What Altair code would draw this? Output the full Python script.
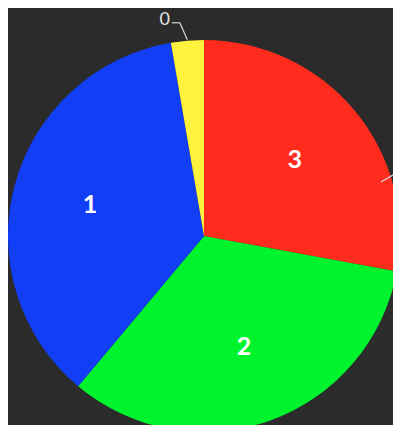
import altair as alt
import pandas as pd

# data (clockwise from 12 o'clock)
categories = ["3", "2", "1", "0"]
values = [27.9, 33.2, 36.2, 2.7]
colors = ["#FF2B1C", "#00F42E", "#123FF6", "#FFF23C"]
outside_labels = ["0"]

df = pd.DataFrame({
    "cat": categories,
    "value": values,
    "idx": list(range(len(categories))),
})
df["outside"] = df["cat"].isin(outside_labels)

CX, CY, R = 196, 228, 196

base = alt.Chart(df).transform_joinaggregate(
    total="sum(value)"
).transform_window(
    cum="sum(value)", sort=[alt.SortField("idx")], frame=[None, 0]
).transform_calculate(
    mid="(datum.cum - datum.value/2) / datum.total * 2 * PI"
)

pie = alt.Chart(df).mark_arc(outerRadius=R, stroke=None).encode(
    theta=alt.Theta("value:Q", stack=True),
    order=alt.Order("idx:Q"),
    color=alt.Color("cat:N", scale=alt.Scale(domain=categories, range=colors), legend=None),
    x=alt.value(CX),
    y=alt.value(CY),
)

inside = base.transform_filter("!datum.outside").transform_calculate(
    lx=f"{CX} + 118*sin(datum.mid)",
    ly=f"{CY} - 118*cos(datum.mid)",
).mark_text(font="Lato", fontWeight="bold", fontSize=25, color="white",
            align="center", baseline="middle").encode(
    x=alt.X("lx:Q", scale=None),
    y=alt.Y("ly:Q", scale=None),
    text="cat:N",
)

out = base.transform_filter("datum.outside").transform_calculate(
    x1=f"{CX} + {R+1}*sin(datum.mid)",
    y1=f"{CY} - {R+1}*cos(datum.mid)",
    x2=f"{CX} + 214*sin(datum.mid) - 6",
    y2=f"{CY} - 214*cos(datum.mid)",
).transform_calculate(
    x3="datum.x2 - 8",
    tx="datum.x2 - 10",
    ty="datum.y2 - 3",
)

lead1 = out.mark_rule(color="#D8D8D8", strokeWidth=1.2).encode(
    x=alt.X("x1:Q", scale=None), y=alt.Y("y1:Q", scale=None),
    x2="x2:Q", y2="y2:Q",
)
lead2 = out.mark_rule(color="#D8D8D8", strokeWidth=1.2).encode(
    x=alt.X("x2:Q", scale=None), y=alt.Y("y2:Q", scale=None),
    x2="x3:Q", y2="y2:Q",
)
outtext = out.mark_text(font="Lato", fontSize=18, color="#E6E6E6",
                        align="right", baseline="middle").encode(
    x=alt.X("tx:Q", scale=None), y=alt.Y("ty:Q", scale=None), text="cat:N",
)

right_lead = alt.Chart(df).mark_rule(color="#D8D8D8", strokeWidth=1.2).encode(
    x=alt.value(373), y=alt.value(174), x2=alt.value(390), y2=alt.value(164)
).transform_filter("datum.idx == 0")

chart = alt.layer(pie, inside, lead1, lead2, outtext, right_lead).properties(
    width=385, height=417, background="#2B2B2B", padding=0,
    autosize=alt.AutoSizeParams(type="none"),
).configure_view(stroke=None)

chart.save("out.html", embed_options={"renderer": "svg", "actions": False})
